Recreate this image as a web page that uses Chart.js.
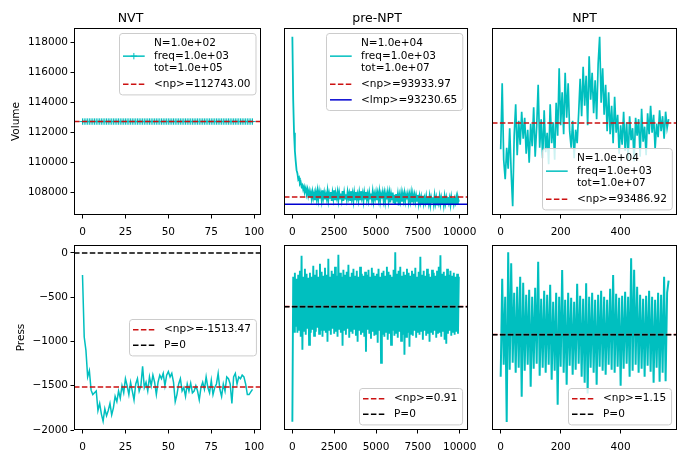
<!DOCTYPE html>
<html>
<head>
<meta charset="utf-8">
<script src="https://cdn.jsdelivr.net/npm/chart.js@4.4.0/dist/chart.umd.min.js"></script>
<style>
  body { margin: 0; background: #fff; }
  #wrap { position: relative; width: 690px; height: 460px; overflow: hidden; }
  canvas { position: absolute; }
</style>
</head>
<body>
<div id="wrap">
  <canvas id="nvtVol" width="272" height="245" style="left:0;top:0"></canvas>
  <canvas id="preVol" width="207" height="245" style="left:277px;top:0"></canvas>
  <canvas id="nptVol" width="205" height="245" style="left:485px;top:0"></canvas>
  <canvas id="nvtPress" width="272" height="225" style="left:0;top:235px"></canvas>
  <canvas id="prePress" width="207" height="225" style="left:277px;top:235px"></canvas>
  <canvas id="nptPress" width="205" height="225" style="left:485px;top:235px"></canvas>
</div>
<script>
const TEAL = '#00bfbf';
const RED = '#cc1111';
const BLUE = '#0000d0';
const BLACK = '#000000';

// titles and tick labels
const titles = ['NVT', 'pre-NPT', 'NPT'];
const volTicks = [108000, 110000, 112000, 114000, 116000, 118000];
const pressTicks = [-2000, -1500, -1000, -500, 0];
const nvtXTicks = [0, 25, 50, 75, 100];
const preXTicks = [0, 2500, 5000, 7500, 10000];
const nptXTicks = [0, 200, 400];

// axis ranges
const volRange = [106513, 118980];
const nvtPressRange = [-2000, 90];
const prePressRange = [-1233, 617];
const nptPressRange = [-953, 897];
const nvtXRange = [-4.95, 103.95];
const preXRange = [-500, 10500];
const nptXRange = [-29, 588];

// sample positions (step numbers)
const nvtSteps = Array.from({ length: 100 }, (_, i) => i);
const preSteps = Array.from({ length: 200 }, (_, i) => i * 50);
const nptSteps = Array.from({ length: 113 }, (_, i) => i * 5);

// NVT
const nvtVolume = [
  112743, 112743, 112743, 112743, 112743, 112743, 112743, 112743, 112743, 112743,
  112743, 112743, 112743, 112743, 112743, 112743, 112743, 112743, 112743, 112743,
  112743, 112743, 112743, 112743, 112743, 112743, 112743, 112743, 112743, 112743,
  112743, 112743, 112743, 112743, 112743, 112743, 112743, 112743, 112743, 112743,
  112743, 112743, 112743, 112743, 112743, 112743, 112743, 112743, 112743, 112743,
  112743, 112743, 112743, 112743, 112743, 112743, 112743, 112743, 112743, 112743,
  112743, 112743, 112743, 112743, 112743, 112743, 112743, 112743, 112743, 112743,
  112743, 112743, 112743, 112743, 112743, 112743, 112743, 112743, 112743, 112743,
  112743, 112743, 112743, 112743, 112743, 112743, 112743, 112743, 112743, 112743,
  112743, 112743, 112743, 112743, 112743, 112743, 112743, 112743, 112743, 112743
];
const nvtPress = [
  -250, -950, -1100, -1400, -1330, -1550, -1600, -1580, -1560, -1780,
  -1700, -1820, -1900, -1760, -1840, -1780, -1700, -1830, -1750, -1620,
  -1680, -1560, -1640, -1500, -1580, -1420, -1500, -1600, -1460, -1560,
  -1660, -1480, -1420, -1560, -1500, -1280, -1520, -1460, -1560, -1400,
  -1500, -1380, -1460, -1600, -1460, -1380, -1420, -1360, -1500, -1380,
  -1340, -1400, -1360, -1460, -1680, -1600, -1480, -1420, -1560, -1520,
  -1620, -1480, -1560, -1470, -1580, -1560, -1500, -1560, -1660, -1520,
  -1460, -1540, -1400, -1520, -1580, -1440, -1600, -1520, -1480, -1360,
  -1540, -1620, -1480, -1560, -1400, -1420, -1480, -1700, -1400, -1360,
  -1480, -1400, -1420, -1380, -1400, -1480, -1600, -1600, -1570, -1540
];
const nvtVolMean = 112743;
const nvtPressMean = -1513.47;

// pre-NPT
const preVolume = [
  118400, 114200, 112000, 110800, 110100, 109500, 109300, 108900, 109000, 108600,
  108700, 108400, 108500, 108200, 108400, 108100, 108300, 107900, 108200, 107800,
  108100, 107700, 108000, 107600, 108050, 107650, 107950, 107500, 108000, 107600,
  108100, 107550, 108050, 107600, 107950, 107500, 108150, 107650, 108000, 107550,
  107900, 107600, 108100, 107500, 107950, 107650, 108050, 107450, 108000, 107600,
  108150, 107550, 107900, 107650, 108050, 107500, 108000, 107600, 107950, 107550,
  108100, 107450, 108000, 107600, 107900, 107550, 108050, 107650, 107950, 107500,
  108100, 107600, 107950, 107450, 108000, 107550, 108050, 107600, 107900, 107500,
  108000, 107550, 108100, 107650, 107950, 107450, 108000, 107600, 108050, 107550,
  107900, 107500, 108000, 107600, 107950, 107550, 108050, 107450, 107900, 107600,
  108000, 107500, 107950, 107550, 108050, 107450, 107900, 107600, 108000, 107500,
  107950, 107400, 107900, 107550, 108000, 107450, 107950, 107350, 107900, 107500,
  108000, 107300, 107850, 107200, 107900, 107400, 107850, 107150, 107800, 107450,
  107950, 107400, 107900, 107500, 107950, 107450, 107850, 107550, 107900, 107400,
  107850, 107450, 107950, 107350, 107900, 107500, 107850, 107400, 107800, 107450,
  107850, 107300, 107750, 107350, 107700, 107250, 107800, 107300, 107650, 107350,
  107750, 107250, 107700, 107300, 107750, 107200, 107650, 107350, 107700, 107250,
  107800, 107300, 107650, 107200, 107700, 107350, 107750, 107250, 107650, 107300,
  107700, 107200, 107750, 107300, 107650, 107250, 107700, 107350, 107650, 107200,
  107700, 107300, 107650, 107250, 107600, 107350, 107700, 107250, 107650, 107400
];
const prePress = [
  -1150, 300, -250, 340, -200, 280, -260, 320, -230, 360,
  -300, 510, -430, 300, -240, 380, -280, 330, -220, 290,
  -380, 340, -260, 300, -230, 410, -290, 320, -250, 370,
  -210, 300, -270, 430, -240, 350, -300, 310, -230, 390,
  -260, 320, -350, 480, -240, 300, -280, 360, -220, 330,
  -270, 400, -250, 310, -300, 520, -230, 340, -260, 300,
  -390, 370, -240, 320, -280, 350, -220, 420, -310, 300,
  -250, 340, -270, 380, -230, 310, -290, 360, -350, 300,
  -240, 400, -280, 330, -260, 310, -300, 350, -450, 320,
  -230, 370, -270, 300, -320, 390, -250, 340, -290, 310,
  -270, 330, -360, 380, -240, 300, -560, 340, -280, 360,
  -300, 310, -250, 400, -330, 350, -270, 320, -380, 300,
  -240, 370, -290, 545, -260, 330, -310, 360, -250, 400,
  -340, 310, -280, 350, -480, 320, -300, 380, -260, 340,
  -400, 310, -270, 360, -290, 330, -240, 390, -310, 300,
  -260, 350, -280, 500, -250, 320, -330, 360, -240, 310,
  -290, 380, -270, 330, -350, 300, -260, 370, -280, 340,
  -240, 310, -310, 360, -270, 400, -260, 515, -300, 330,
  -250, 350, -330, 310, -370, 380, -270, 320, -240, 360,
  -290, 310, -260, 340, -280, 300, -250, 330, -270, 300
];
const preVolMean = 107713;
const preVolLmp = 107227;
const prePressMean = 0.91;

// NPT
const nptVolume = [
  110900, 115300, 110200, 108900, 111000, 109600, 112300, 109300, 107100, 111800,
  113900, 110500, 112800, 111200, 113400, 111600, 113000, 110600, 112200, 110000,
  112600, 111100, 113700, 110400, 112400, 115200, 111000, 112900, 110300, 113500,
  110700, 112000, 109900, 113900, 111300, 112700, 110200, 114000, 111800, 116300,
  112500, 114700, 111900, 116000, 113000, 115300, 112100, 111000, 112800, 110300,
  112200, 111300, 113300, 115600, 113100, 116400, 113800, 115800, 112500, 117100,
  114200, 116000, 113300, 115500, 112900, 116600, 118400, 114000, 116300, 113200,
  115200, 112100, 114700, 111900, 113800, 111300, 114400, 112000, 113200, 110600,
  112500, 111200, 113400, 110800, 112700, 110200, 113100, 111500, 112300, 110100,
  113000, 111800, 112900, 110400, 113600, 111400, 112400, 110500, 113300, 111900,
  113800, 112000, 113200, 110900, 112600, 111700, 113500, 112100, 113100, 111600,
  113400, 112300, 112900
];
const nptPress = [
  -420, 560, -300, 380, -873, 824, -350, 714, -280, 420,
  -380, 480, -330, 580, -620, 520, -360, 400, -300, 450,
  -520, 380, -340, 470, -290, 730, -410, 360, -330, 440,
  -380, 400, -300, 500, -450, 330, -360, 420, -700, 380,
  -320, 647, -380, 350, -500, 420, -310, 370, -400, 330,
  -350, 510, -290, 390, -420, 360, -480, 514, -587, 380,
  -330, 420, -380, 350, -500, 400, -320, 440, -360, 380,
  -400, 350, -300, 460, -350, 597, -380, 410, -320, 370,
  -510, 390, -340, 430, -290, 380, -420, 764, -360, 650,
  -300, 480, -380, 400, -340, 360, -420, 390, -310, 440,
  -370, 380, -480, 350, -330, 420, -470, 400, -380, 580,
  -465, 420, 540
];
const nptVolMean = 112650;
const nptPressMean = 1.15;

Chart.defaults.font.family = '"DejaVu Sans", sans-serif';
Chart.defaults.font.size = 10.5;
Chart.defaults.color = '#000';

const LEG_FONT = '10.5px "DejaVu Sans"';
const LINE_H = 12.5, GAP = 3.1, PAD_V = 4.4, PAD_L = 4, HANDLE = 21.7, HANDLE_GAP = 9.3, PAD_R = 5.5;

// black box round the plot area, like matplotlib spines
const frame = {
  id: 'frame',
  afterDatasetsDraw(chart) {
    const a = chart.chartArea, ctx = chart.ctx;
    ctx.save();
    ctx.strokeStyle = '#000';
    ctx.lineWidth = 1;
    ctx.strokeRect(a.left + 0.5, a.top + 0.5, a.right - a.left - 1, a.bottom - a.top - 1);
    ctx.restore();
  }
};

// matplotlib-like legend drawn inside the axes
const boxLegend = {
  id: 'boxLegend',
  afterDraw(chart, args, opts) {
    const items = chart.data.datasets.filter(d => d.legendText);
    if (!items.length) return;
    const ctx = chart.ctx, a = chart.chartArea;
    ctx.save();
    ctx.font = LEG_FONT;
    let tw = 0, h = 0;
    items.forEach((d, i) => {
      d.legendText.forEach(t => { tw = Math.max(tw, ctx.measureText(t).width); });
      h += d.legendText.length * LINE_H + (i ? GAP : 0);
    });
    const bw = PAD_L + HANDLE + HANDLE_GAP + tw + PAD_R;
    const bh = h + 2 * PAD_V;
    const x = Math.round(a.right - 5 - bw);
    let y;
    if (opts.loc === 'upper') y = a.top + 5;
    else if (opts.loc === 'lower') y = a.bottom - 5 - bh;
    else y = (a.top + a.bottom) / 2 - bh / 2;
    y = Math.round(y);

    const r = 3;
    ctx.beginPath();
    ctx.moveTo(x + r, y + 0.5);
    ctx.arcTo(x + bw, y + 0.5, x + bw, y + bh, r);
    ctx.arcTo(x + bw, y + bh, x, y + bh, r);
    ctx.arcTo(x + 0.5, y + bh, x + 0.5, y, r);
    ctx.arcTo(x + 0.5, y + 0.5, x + bw, y + 0.5, r);
    ctx.closePath();
    ctx.fillStyle = 'rgba(255,255,255,0.8)';
    ctx.fill();
    ctx.strokeStyle = '#cccccc';
    ctx.lineWidth = 1;
    ctx.stroke();

    let cy = y + PAD_V;
    items.forEach(d => {
      const n = d.legendText.length;
      const mid = cy + n * LINE_H / 2;
      const hx = x + PAD_L;
      ctx.strokeStyle = d.borderColor;
      ctx.lineWidth = 1.5;
      ctx.setLineDash(d.borderDash || []);
      ctx.beginPath();
      ctx.moveTo(hx, mid);
      ctx.lineTo(hx + HANDLE, mid);
      ctx.stroke();
      ctx.setLineDash([]);
      if (d.pointStyle === 'cross' && d.pointRadius) {
        const cx = hx + HANDLE / 2, pr = d.pointRadius;
        ctx.lineWidth = 1;
        ctx.beginPath();
        ctx.moveTo(cx - pr, mid); ctx.lineTo(cx + pr, mid);
        ctx.moveTo(cx, mid - pr); ctx.lineTo(cx, mid + pr);
        ctx.stroke();
      }
      ctx.fillStyle = '#000';
      ctx.textBaseline = 'middle';
      ctx.textAlign = 'left';
      d.legendText.forEach((t, k) => {
        ctx.fillText(t, hx + HANDLE + HANDLE_GAP, cy + LINE_H * (k + 0.5));
      });
      cy += n * LINE_H + GAP;
    });
    ctx.restore();
  }
};

function trace(xs, ys, extra) {
  return Object.assign({
    data: ys.map((y, i) => ({ x: xs[i], y })),
    borderColor: TEAL, borderWidth: 1.5, pointRadius: 0, order: 2
  }, extra || {});
}

function hline(range, y, color, dash, text, order) {
  return {
    data: [{ x: range[0], y }, { x: range[1], y }],
    borderColor: color, borderWidth: 1.5, borderDash: dash, pointRadius: 0,
    legendText: [text], order
  };
}

const DASH = [5.5, 2.4];
const tickGrid = { display: true, drawOnChartArea: false, drawTicks: true, tickLength: 3.5, tickColor: '#000', tickWidth: 1 };

function fixTicks(list) {
  return scale => { scale.ticks = list.map(v => ({ value: v })); };
}

function makeChart(id, o) {
  const yScale = o.yTitle ? {
    type: 'linear', min: o.yRange[0], max: o.yRange[1],
    afterBuildTicks: fixTicks(o.yTicks),
    afterFit: s => { s.width = 74; },
    ticks: { padding: 2.5, callback: v => String(v).replace('-', '\u2212') },
    grid: tickGrid, border: { display: false },
    title: { display: true, text: o.yTitle, font: { size: 10.5 }, padding: { top: o.yTitlePad, bottom: 0 } }
  } : { type: 'linear', display: false, min: o.yRange[0], max: o.yRange[1] };

  return new Chart(document.getElementById(id), {
    type: 'line',
    data: { datasets: o.datasets },
    options: {
      responsive: false, animation: false, devicePixelRatio: 1,
      layout: { padding: o.padding },
      plugins: {
        legend: { display: false },
        tooltip: { enabled: false },
        title: o.title ? {
          display: true, text: o.title, color: '#000',
          font: { size: 12.5, weight: 'normal' }, padding: { top: 11, bottom: 2 }
        } : { display: false },
        boxLegend: { loc: o.legendLoc }
      },
      scales: {
        x: {
          type: 'linear', min: o.xRange[0], max: o.xRange[1],
          afterBuildTicks: fixTicks(o.xTicks),
          afterFit: s => { s.height = 30; },
          ticks: { padding: 7, maxRotation: 0, autoSkip: false, callback: v => String(v) },
          grid: tickGrid, border: { display: false }
        },
        y: yScale
      }
    },
    plugins: [frame, boxLegend]
  });
}

// top row: volume
makeChart('nvtVol', {
  title: titles[0], yTitle: 'Volume', yTitlePad: 9.7, yRange: volRange, yTicks: volTicks,
  xRange: nvtXRange, xTicks: nvtXTicks, padding: { left: 0, right: 11, top: 0, bottom: 0 },
  legendLoc: 'upper',
  datasets: [
    trace(nvtSteps, nvtVolume, { pointRadius: 3.2, pointStyle: 'cross', pointBorderColor: TEAL, pointBorderWidth: 1,
      legendText: ['N=1.0e+02', 'freq=1.0e+03', 'tot=1.0e+05'] }),
    hline(nvtXRange, nvtVolMean, RED, DASH, '<np>=112743.00', 1)
  ]
});

makeChart('preVol', {
  title: titles[1], yRange: volRange,
  xRange: preXRange, xTicks: preXTicks, padding: { left: 7, right: 14, top: 0, bottom: 0 },
  legendLoc: 'upper',
  datasets: [
    trace(preSteps, preVolume, { borderWidth: 1.8, legendText: ['N=1.0e+04', 'freq=1.0e+03', 'tot=1.0e+07'] }),
    hline(preXRange, preVolMean, RED, DASH, '<np>=93933.97', 1),
    hline(preXRange, preVolLmp, BLUE, [], '<lmp>=93230.65', 1)
  ]
});

makeChart('nptVol', {
  title: titles[2], yRange: volRange,
  xRange: nptXRange, xTicks: nptXTicks, padding: { left: 7, right: 13, top: 0, bottom: 0 },
  legendLoc: 'lower',
  datasets: [
    trace(nptSteps, nptVolume, { borderWidth: 1.7, legendText: ['N=1.0e+04', 'freq=1.0e+03', 'tot=1.0e+07'] }),
    hline(nptXRange, nptVolMean, RED, DASH, '<np>=93486.92', 1)
  ]
});

// bottom row: pressure
makeChart('nvtPress', {
  yTitle: 'Press', yTitlePad: 14.5, yRange: nvtPressRange, yTicks: pressTicks,
  xRange: nvtXRange, xTicks: nvtXTicks, padding: { left: 0, right: 11, top: 10, bottom: 0 },
  legendLoc: 'center',
  datasets: [
    trace(nvtSteps, nvtPress),
    hline(nvtXRange, nvtPressMean, RED, DASH, '<np>=-1513.47', 1),
    hline(nvtXRange, 0, BLACK, DASH, 'P=0', 0)
  ]
});

makeChart('prePress', {
  yRange: prePressRange,
  xRange: preXRange, xTicks: preXTicks, padding: { left: 7, right: 14, top: 10, bottom: 0 },
  legendLoc: 'lower',
  datasets: [
    trace(preSteps, prePress, { borderWidth: 1.9 }),
    hline(preXRange, prePressMean, RED, DASH, '<np>=0.91', 1),
    hline(preXRange, 0, BLACK, DASH, 'P=0', 0)
  ]
});

makeChart('nptPress', {
  yRange: nptPressRange,
  xRange: nptXRange, xTicks: nptXTicks, padding: { left: 7, right: 13, top: 10, bottom: 0 },
  legendLoc: 'lower',
  datasets: [
    trace(nptSteps, nptPress, { borderWidth: 2 }),
    hline(nptXRange, nptPressMean, RED, DASH, '<np>=1.15', 1),
    hline(nptXRange, 0, BLACK, DASH, 'P=0', 0)
  ]
});
</script>
</body>
</html>
